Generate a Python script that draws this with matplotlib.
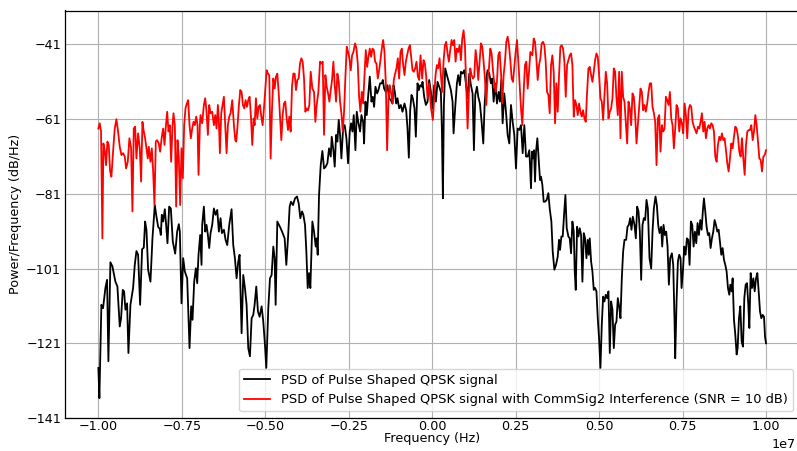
import numpy as np
import matplotlib.pyplot as plt

# frequency in MHz, PSD in dB/Hz
clean_freq_mhz = [
    -10.00, -9.97, -9.91, -9.86, -9.79, -9.74, -9.70, -9.64, -9.58, -9.49,
    -9.43, -9.36, -9.32, -9.27, -9.23, -9.19, -9.14, -9.10, -9.04, -8.96,
    -8.91, -8.86, -8.81, -8.75, -8.69, -8.64, -8.60, -8.56, -8.51, -8.44,
    -8.38, -8.31, -8.26, -8.21, -8.16, -8.13, -8.10, -8.06, -8.01, -7.97,
    -7.93, -7.88, -7.83, -7.77, -7.70, -7.64, -7.59, -7.56, -7.51, -7.46,
    -7.41, -7.34, -7.27, -7.22, -7.18, -7.13, -7.08, -7.04, -7.00, -6.95,
    -6.91, -6.89, -6.84, -6.80, -6.76, -6.72, -6.68, -6.64, -6.59, -6.54,
    -6.49, -6.44, -6.39, -6.34, -6.30, -6.24, -6.19, -6.14, -6.08, -6.01,
    -5.96, -5.91, -5.86, -5.81, -5.77, -5.71, -5.66, -5.61, -5.56, -5.51,
    -5.46, -5.41, -5.36, -5.32, -5.27, -5.22, -5.17, -5.11, -5.06, -5.01,
    -4.97, -4.91, -4.86, -4.81, -4.76, -4.72, -4.69, -4.64, -4.59, -4.54,
    -4.48, -4.42, -4.37, -4.32, -4.27, -4.23, -4.17, -4.11, -4.05, -4.00,
    -3.95, -3.90, -3.86, -3.81, -3.77, -3.73, -3.69, -3.65, -3.59, -3.54,
    -3.49, -3.46, -3.43, -3.39, -3.34, -3.29, -3.24, -3.19, -3.14, -3.09,
    -3.04, -3.01, -2.96, -2.92, -2.88, -2.84, -2.80, -2.76, -2.72, -2.67,
    -2.62, -2.57, -2.52, -2.47, -2.43, -2.39, -2.35, -2.30, -2.26, -2.21,
    -2.16, -2.12, -2.07, -2.04, -2.00, -1.96, -1.92, -1.87, -1.82, -1.78,
    -1.74, -1.70, -1.65, -1.61, -1.56, -1.51, -1.48, -1.44, -1.39, -1.34,
    -1.29, -1.24, -1.19, -1.16, -1.12, -1.08, -1.04, -0.99, -0.94, -0.89,
    -0.83, -0.78, -0.74, -0.70, -0.66, -0.62, -0.58, -0.53, -0.49, -0.44,
    -0.40, -0.36, -0.31, -0.29, -0.24, -0.19, -0.14, -0.09, -0.04, 0.01,
    0.06, 0.11, 0.16, 0.21, 0.26, 0.29, 0.32, 0.35, 0.39, 0.44,
    0.48, 0.52, 0.56, 0.61, 0.64, 0.69, 0.74, 0.78, 0.83, 0.86,
    0.91, 0.96, 1.01, 1.06, 1.11, 1.16, 1.21, 1.25, 1.29, 1.34,
    1.38, 1.43, 1.48, 1.53, 1.57, 1.62, 1.66, 1.71, 1.76, 1.80,
    1.84, 1.89, 1.94, 1.99, 2.03, 2.07, 2.11, 2.16, 2.21, 2.26,
    2.31, 2.36, 2.41, 2.46, 2.51, 2.56, 2.61, 2.66, 2.71, 2.76,
    2.81, 2.86, 2.91, 2.96, 2.99, 3.02, 3.05, 3.08, 3.11, 3.15,
    3.19, 3.23, 3.26, 3.30, 3.34, 3.38, 3.43, 3.48, 3.52, 3.57,
    3.61, 3.66, 3.71, 3.76, 3.80, 3.83, 3.87, 3.91, 3.95, 3.99,
    4.03, 4.08, 4.12, 4.16, 4.20, 4.24, 4.27, 4.30, 4.34, 4.38,
    4.42, 4.46, 4.50, 4.54, 4.58, 4.62, 4.66, 4.69, 4.72, 4.76,
    4.80, 4.84, 4.88, 4.92, 4.96, 5.00, 5.04, 5.08, 5.12, 5.16,
    5.20, 5.24, 5.28, 5.32, 5.36, 5.40, 5.44, 5.48, 5.52, 5.56,
    5.60, 5.64, 5.68, 5.72, 5.76, 5.81, 5.85, 5.89, 5.93, 5.97,
    6.01, 6.06, 6.10, 6.14, 6.18, 6.22, 6.26, 6.30, 6.34, 6.38,
    6.42, 6.46, 6.51, 6.56, 6.60, 6.64, 6.69, 6.73, 6.77, 6.81,
    6.86, 6.89, 6.93, 6.97, 7.01, 7.05, 7.09, 7.13, 7.18, 7.22,
    7.26, 7.28, 7.32, 7.36, 7.40, 7.44, 7.47, 7.51, 7.55, 7.59,
    7.63, 7.67, 7.71, 7.75, 7.79, 7.83, 7.87, 7.91, 7.95, 7.99,
    8.03, 8.07, 8.11, 8.14, 8.18, 8.22, 8.26, 8.30, 8.34, 8.38,
    8.42, 8.46, 8.50, 8.54, 8.58, 8.62, 8.66, 8.70, 8.74, 8.78,
    8.82, 8.86, 8.90, 8.93, 8.97, 9.00, 9.04, 9.08, 9.12, 9.15,
    9.19, 9.23, 9.27, 9.31, 9.35, 9.39, 9.43, 9.47, 9.50, 9.54,
    9.58, 9.62, 9.66, 9.70, 9.74, 9.78, 9.82, 9.86, 9.90, 9.94,
    9.97, 10.00,
]
clean_psd_db = [
    -127.6, -135.7, -110.7, -111.6, -106.2, -104.0, -125.8, -99.3, -100.4, -104.5,
    -105.8, -116.5, -114.3, -106.7, -107.1, -112.0, -110.3, -123.6, -110.7, -106.2,
    -100.0, -96.3, -97.3, -110.7, -95.8, -95.4, -88.4, -90.6, -101.3, -104.5,
    -92.9, -84.0, -87.1, -89.8, -90.4, -92.0, -86.6, -88.4, -85.1, -89.3,
    -94.2, -84.4, -84.9, -93.8, -97.0, -91.1, -89.1, -91.1, -110.3, -98.2,
    -101.8, -103.6, -122.3, -111.1, -114.7, -104.5, -100.9, -104.9, -97.3, -92.0,
    -100.0, -89.3, -84.4, -91.1, -89.3, -92.0, -95.5, -91.5, -89.3, -84.9,
    -86.6, -85.3, -91.1, -87.5, -91.5, -90.6, -93.3, -94.7, -89.3, -85.1,
    -94.7, -98.2, -103.6, -99.1, -97.3, -118.3, -102.7, -106.2, -110.7, -122.3,
    -124.5, -114.3, -113.4, -110.7, -105.8, -112.5, -113.9, -111.1, -115.2, -121.4,
    -127.6, -111.6, -103.6, -102.7, -95.1, -98.2, -110.7, -88.4, -89.3, -90.2,
    -91.5, -92.9, -100.0, -92.9, -84.4, -83.1, -84.0, -82.2, -81.7, -83.5,
    -87.5, -85.7, -86.6, -89.3, -96.4, -106.2, -102.2, -106.2, -88.4, -91.1,
    -95.1, -92.9, -97.3, -81.3, -73.3, -69.5, -74.2, -73.7, -72.8, -68.8,
    -71.0, -65.7, -69.3, -73.7, -65.2, -67.0, -61.2, -65.2, -71.5, -63.5,
    -62.6, -66.1, -72.8, -64.3, -62.1, -64.3, -59.9, -69.3, -59.0, -62.1,
    -64.3, -59.9, -61.7, -67.5, -56.3, -59.9, -55.0, -49.6, -56.3, -55.0,
    -57.7, -52.3, -54.1, -53.2, -51.4, -51.4, -50.5, -52.8, -53.7, -51.9,
    -55.4, -55.9, -56.8, -51.9, -53.7, -56.8, -55.4, -58.1, -57.2, -59.0,
    -56.8, -58.6, -63.5, -71.3, -58.6, -54.5, -55.4, -58.1, -65.7, -51.4,
    -53.2, -51.9, -52.3, -51.0, -55.0, -57.2, -56.3, -50.5, -53.7, -58.1,
    -51.9, -56.3, -51.0, -52.3, -53.7, -63.5, -82.2, -57.2, -47.4, -49.2,
    -50.5, -51.9, -53.2, -56.3, -64.8, -57.7, -51.4, -49.2, -51.9, -48.3,
    -48.8, -47.9, -51.4, -55.4, -48.8, -51.9, -54.1, -69.3, -54.5, -52.3,
    -55.0, -56.8, -61.7, -67.5, -57.2, -50.1, -47.9, -48.8, -51.4, -50.1,
    -56.3, -51.4, -56.8, -53.7, -56.3, -50.5, -62.1, -54.1, -59.0, -65.2,
    -67.5, -57.2, -61.7, -65.2, -74.2, -63.5, -63.9, -62.6, -70.1, -62.6,
    -71.0, -71.0, -69.3, -79.5, -69.7, -71.5, -69.3, -77.7, -69.7, -66.1,
    -71.5, -77.3, -76.4, -78.6, -83.1, -83.1, -82.6, -80.8, -84.9, -88.4,
    -96.4, -101.3, -100.0, -97.8, -93.3, -96.0, -92.4, -92.4, -86.6, -81.3,
    -90.2, -92.4, -92.9, -96.9, -88.4, -91.1, -101.8, -106.7, -89.8, -92.4,
    -90.2, -92.0, -104.5, -91.5, -92.9, -98.2, -93.3, -97.3, -92.9, -99.1,
    -101.8, -106.7, -106.2, -107.1, -114.3, -119.9, -127.6, -116.0, -108.5, -109.8,
    -108.0, -108.9, -107.1, -123.6, -109.8, -112.0, -122.3, -116.0, -115.2, -108.9,
    -111.1, -114.3, -103.6, -96.4, -93.3, -93.3, -89.8, -89.3, -87.5, -90.6,
    -87.1, -89.3, -92.9, -84.4, -85.7, -91.1, -104.0, -89.3, -87.5, -88.0,
    -82.6, -84.9, -98.2, -101.0, -91.1, -84.9, -81.7, -84.0, -89.3, -91.5,
    -89.8, -95.1, -89.3, -92.0, -91.1, -95.1, -105.3, -98.2, -96.9, -100.0,
    -115.2, -125.0, -109.8, -99.1, -97.3, -98.2, -106.2, -101.8, -95.1, -97.3,
    -92.9, -93.3, -100.0, -88.4, -89.3, -95.1, -91.1, -94.2, -88.8, -92.0,
    -88.0, -90.6, -85.3, -82.2, -85.7, -89.8, -92.0, -91.5, -95.5, -92.9,
    -91.1, -88.0, -89.3, -91.1, -90.6, -93.8, -97.3, -95.5, -98.6, -100.0,
    -101.8, -106.2, -108.0, -105.3, -107.1, -103.6, -114.7, -118.7, -124.0, -122.3,
    -114.3, -111.1, -120.5, -121.9, -108.9, -105.3, -104.9, -110.7, -116.9, -102.2,
    -106.2, -103.6, -107.1, -103.6, -102.2, -107.1, -112.5, -114.3, -113.4, -113.9,
    -119.2, -121.0,
]

noisy_freq_mhz = [
    -10.00, -9.96, -9.92, -9.88, -9.85, -9.81, -9.77, -9.73, -9.69, -9.65,
    -9.61, -9.56, -9.51, -9.46, -9.41, -9.36, -9.31, -9.26, -9.21, -9.17,
    -9.12, -9.07, -9.02, -8.98, -8.94, -8.90, -8.86, -8.81, -8.76, -8.72,
    -8.68, -8.64, -8.60, -8.56, -8.52, -8.49, -8.44, -8.40, -8.36, -8.32,
    -8.28, -8.24, -8.19, -8.15, -8.10, -8.06, -8.02, -7.98, -7.94, -7.90,
    -7.86, -7.82, -7.78, -7.75, -7.71, -7.67, -7.63, -7.59, -7.55, -7.51,
    -7.47, -7.43, -7.39, -7.35, -7.31, -7.27, -7.23, -7.19, -7.15, -7.11,
    -7.07, -7.03, -7.00, -6.96, -6.94, -6.89, -6.84, -6.80, -6.76, -6.72,
    -6.68, -6.64, -6.59, -6.54, -6.50, -6.46, -6.42, -6.39, -6.36, -6.32,
    -6.28, -6.24, -6.20, -6.16, -6.12, -6.08, -6.04, -5.99, -5.94, -5.90,
    -5.87, -5.83, -5.79, -5.75, -5.71, -5.67, -5.63, -5.59, -5.55, -5.51,
    -5.47, -5.43, -5.39, -5.35, -5.32, -5.28, -5.24, -5.20, -5.16, -5.12,
    -5.08, -5.04, -5.00, -4.96, -4.92, -4.88, -4.84, -4.80, -4.76, -4.72,
    -4.68, -4.64, -4.60, -4.56, -4.52, -4.48, -4.44, -4.40, -4.36, -4.32,
    -4.28, -4.24, -4.20, -4.16, -4.12, -4.08, -4.04, -4.00, -3.96, -3.92,
    -3.88, -3.84, -3.80, -3.76, -3.72, -3.68, -3.64, -3.59, -3.54, -3.50,
    -3.46, -3.41, -3.36, -3.32, -3.28, -3.24, -3.20, -3.16, -3.12, -3.08,
    -3.04, -3.00, -2.96, -2.92, -2.88, -2.84, -2.80, -2.76, -2.72, -2.68,
    -2.64, -2.60, -2.56, -2.52, -2.48, -2.44, -2.40, -2.36, -2.31, -2.27,
    -2.23, -2.19, -2.15, -2.11, -2.07, -2.03, -1.99, -1.95, -1.91, -1.87,
    -1.83, -1.79, -1.75, -1.71, -1.67, -1.63, -1.59, -1.55, -1.51, -1.47,
    -1.43, -1.39, -1.35, -1.31, -1.27, -1.23, -1.19, -1.15, -1.11, -1.07,
    -1.03, -0.99, -0.95, -0.91, -0.87, -0.83, -0.79, -0.75, -0.71, -0.67,
    -0.63, -0.59, -0.55, -0.51, -0.47, -0.43, -0.39, -0.35, -0.30, -0.26,
    -0.22, -0.18, -0.14, -0.09, -0.04, 0.02, 0.06, 0.10, 0.14, 0.18,
    0.22, 0.26, 0.30, 0.34, 0.38, 0.42, 0.46, 0.50, 0.54, 0.58,
    0.62, 0.66, 0.70, 0.74, 0.78, 0.82, 0.86, 0.90, 0.94, 0.98,
    1.02, 1.06, 1.10, 1.14, 1.18, 1.22, 1.26, 1.30, 1.34, 1.38,
    1.42, 1.46, 1.50, 1.54, 1.58, 1.62, 1.66, 1.70, 1.74, 1.78,
    1.82, 1.86, 1.90, 1.94, 1.98, 2.02, 2.06, 2.10, 2.14, 2.18,
    2.22, 2.26, 2.30, 2.34, 2.38, 2.42, 2.46, 2.50, 2.54, 2.58,
    2.62, 2.66, 2.70, 2.74, 2.78, 2.82, 2.86, 2.90, 2.94, 3.00,
    3.04, 3.08, 3.12, 3.16, 3.20, 3.24, 3.28, 3.32, 3.36, 3.40,
    3.44, 3.48, 3.52, 3.56, 3.60, 3.64, 3.68, 3.72, 3.76, 3.80,
    3.84, 3.88, 3.92, 3.96, 4.00, 4.04, 4.08, 4.12, 4.16, 4.20,
    4.24, 4.28, 4.32, 4.36, 4.40, 4.44, 4.48, 4.52, 4.56, 4.60,
    4.64, 4.68, 4.72, 4.76, 4.80, 4.84, 4.88, 4.92, 4.96, 5.00,
    5.04, 5.08, 5.12, 5.16, 5.20, 5.24, 5.28, 5.32, 5.36, 5.40,
    5.44, 5.48, 5.52, 5.56, 5.60, 5.64, 5.68, 5.72, 5.76, 5.80,
    5.84, 5.88, 5.92, 5.96, 6.00, 6.04, 6.08, 6.12, 6.16, 6.20,
    6.24, 6.28, 6.32, 6.36, 6.40, 6.44, 6.48, 6.52, 6.56, 6.60,
    6.64, 6.68, 6.72, 6.76, 6.80, 6.84, 6.88, 6.92, 6.96, 7.00,
    7.04, 7.08, 7.12, 7.16, 7.20, 7.24, 7.28, 7.32, 7.36, 7.40,
    7.44, 7.48, 7.52, 7.56, 7.60, 7.64, 7.68, 7.72, 7.76, 7.80,
    7.84, 7.88, 7.92, 7.96, 8.00, 8.04, 8.08, 8.12, 8.16, 8.20,
    8.24, 8.28, 8.32, 8.36, 8.40, 8.44, 8.48, 8.52, 8.56, 8.60,
    8.64, 8.68, 8.72, 8.76, 8.80, 8.84, 8.88, 8.92, 8.96, 9.00,
    9.04, 9.08, 9.12, 9.16, 9.20, 9.24, 9.28, 9.32, 9.36, 9.40,
    9.44, 9.48, 9.52, 9.56, 9.60, 9.64, 9.68, 9.72, 9.76, 9.80,
    9.84, 9.88, 9.92, 9.96, 10.00,
]
noisy_psd_db = [
    -63.5, -62.1, -64.3, -92.9, -67.5, -69.3, -73.3, -67.0, -67.9, -74.9,
    -76.4, -69.7, -63.5, -61.0, -64.3, -68.4, -70.6, -70.1, -71.0, -74.2,
    -72.4, -66.1, -68.8, -85.7, -63.5, -63.0, -71.5, -64.8, -68.8, -77.7,
    -61.7, -64.3, -66.1, -68.8, -71.5, -68.4, -72.4, -68.8, -74.9, -84.0,
    -67.0, -66.6, -67.5, -69.7, -65.7, -63.5, -67.9, -63.0, -59.0, -64.3,
    -62.6, -72.4, -63.0, -59.4, -62.6, -84.4, -66.6, -71.5, -84.0, -68.8,
    -76.8, -62.6, -58.1, -56.8, -55.9, -62.6, -66.1, -63.5, -61.7, -62.6,
    -60.3, -62.6, -75.9, -62.6, -59.9, -62.1, -57.2, -55.4, -59.0, -65.2,
    -57.2, -59.4, -59.0, -62.6, -59.9, -63.5, -57.2, -61.7, -70.1, -59.4,
    -57.2, -55.0, -62.6, -70.1, -62.6, -60.3, -59.4, -55.9, -62.6, -66.6,
    -67.0, -62.6, -57.2, -53.2, -53.7, -57.2, -58.1, -55.9, -57.7, -55.9,
    -55.0, -60.3, -67.9, -60.8, -62.6, -55.4, -60.8, -57.7, -57.2, -60.3,
    -62.6, -58.1, -52.8, -47.9, -48.8, -49.2, -71.5, -58.6, -50.1, -52.8,
    -49.6, -48.8, -53.7, -60.3, -66.6, -59.9, -56.8, -56.3, -60.8, -63.9,
    -60.3, -64.3, -52.3, -48.8, -48.8, -53.2, -50.5, -50.1, -46.1, -44.7,
    -45.6, -50.1, -59.0, -58.1, -58.6, -57.2, -48.3, -52.8, -53.7, -61.7,
    -57.2, -53.7, -45.6, -46.1, -45.6, -65.2, -49.2, -52.3, -54.1, -56.3,
    -53.2, -50.5, -45.6, -51.9, -56.3, -48.8, -51.0, -56.3, -59.4, -64.3,
    -59.0, -49.6, -41.6, -43.0, -44.7, -47.9, -43.9, -43.0, -40.7, -42.1,
    -46.1, -55.0, -59.0, -53.7, -56.8, -49.6, -42.5, -47.0, -44.3, -42.1,
    -44.3, -42.1, -42.5, -45.6, -46.1, -50.1, -47.9, -45.2, -42.1, -39.8,
    -43.0, -51.4, -69.3, -55.4, -51.9, -54.1, -56.8, -50.5, -48.8, -47.4,
    -44.7, -50.1, -43.0, -42.1, -46.5, -49.2, -45.6, -43.9, -42.1, -41.2,
    -44.3, -47.9, -48.3, -47.4, -45.6, -49.6, -50.5, -43.9, -50.1, -45.2,
    -46.1, -49.6, -55.4, -51.4, -57.7, -61.2, -55.4, -49.2, -46.5, -47.4,
    -44.7, -49.2, -53.7, -45.6, -41.2, -40.3, -43.4, -45.6, -42.5, -39.8,
    -41.2, -39.8, -45.6, -42.1, -43.0, -41.2, -45.2, -39.4, -37.2, -41.2,
    -52.8, -63.5, -53.7, -47.4, -49.2, -50.1, -49.6, -42.5, -45.6, -50.5,
    -45.6, -40.7, -41.6, -45.6, -50.1, -57.2, -50.1, -47.4, -42.1, -43.4,
    -47.9, -51.4, -53.7, -51.0, -43.9, -43.0, -48.3, -56.8, -49.2, -45.6,
    -40.3, -38.9, -41.2, -45.2, -50.1, -51.0, -47.0, -43.0, -39.8, -45.6,
    -51.9, -58.1, -62.6, -53.7, -46.5, -45.6, -52.8, -48.3, -43.0, -43.9,
    -39.4, -40.3, -44.7, -50.5, -46.5, -44.7, -40.7, -40.3, -41.2, -45.6,
    -53.7, -54.5, -59.4, -46.5, -43.9, -48.3, -62.1, -51.4, -59.0, -49.2,
    -41.6, -41.2, -42.1, -45.6, -55.0, -46.5, -45.2, -43.9, -43.4, -46.5,
    -60.3, -55.9, -57.2, -59.9, -56.8, -59.0, -60.3, -58.6, -60.8, -61.7,
    -53.7, -47.4, -47.0, -49.2, -51.0, -48.3, -45.2, -43.4, -44.3, -49.2,
    -55.4, -56.3, -61.2, -54.5, -48.3, -51.4, -60.8, -59.0, -58.1, -55.4,
    -47.4, -48.3, -55.4, -59.9, -48.3, -66.1, -48.3, -55.0, -56.3, -62.1,
    -67.5, -56.3, -58.1, -62.6, -54.1, -55.0, -59.9, -67.5, -62.6, -58.1,
    -52.8, -53.7, -58.6, -57.2, -59.0, -56.8, -53.7, -51.4, -51.4, -57.7,
    -59.4, -61.7, -73.3, -60.8, -59.9, -69.7, -62.6, -64.3, -63.5, -55.0,
    -55.9, -57.2, -53.7, -60.8, -62.6, -68.8, -63.5, -57.2, -58.1, -64.3,
    -60.8, -62.1, -64.8, -56.8, -59.9, -66.1, -58.6, -57.2, -57.7, -61.7,
    -63.0, -63.9, -64.8, -63.0, -63.5, -61.7, -59.4, -64.3, -61.7, -66.1,
    -63.5, -62.6, -63.5, -62.1, -62.6, -64.3, -71.0, -72.4, -67.9, -65.7,
    -66.6, -64.8, -66.6, -66.1, -69.3, -72.8, -75.0, -71.5, -67.5, -68.8,
    -65.7, -63.0, -63.5, -65.7, -69.7, -71.0, -66.1, -71.5, -75.9, -67.9,
    -64.3, -63.9, -63.9, -62.6, -66.6, -64.3, -59.9, -62.6, -67.0, -71.5,
    -71.9, -75.0, -71.0, -70.6, -69.3,
]

y_ticks = np.arange(-141, -40, 20)

plt.rcParams['font.family'] = 'DejaVu Sans'
plt.rcParams['font.size'] = 9.2

fig = plt.figure(figsize=(7.97, 4.51), dpi=100)
ax = fig.add_axes([65 / 797, 33 / 451, 734.4 / 797, 407.5 / 451])

ax.plot(np.array(clean_freq_mhz) * 1e6, clean_psd_db, color='black', lw=1.3,
        label='PSD of Pulse Shaped QPSK signal')
ax.plot(np.array(noisy_freq_mhz) * 1e6, noisy_psd_db, color='red', lw=1.3,
        label='PSD of Pulse Shaped QPSK signal with CommSig2 Interference (SNR = 10 dB)')

ax.set_xlim(-1.1e7, 1.1e7)
ax.set_ylim(-141, -31.9)
ax.set_yticks(y_ticks)
ax.grid(True, color='#b0b0b0', lw=0.8)
ax.set_axisbelow(True)
ax.tick_params(axis='x', length=0, pad=1.8)
ax.tick_params(axis='y', length=0, pad=2.8)
for s in ax.spines.values():
    s.set_color('black')
    s.set_linewidth(0.9)

# the axes run a little past the right edge, pull the "1e7" back in
ax.xaxis.get_offset_text().set_x(0.995)

ax.set_xlabel('Frequency (Hz)', labelpad=-1)
ax.set_ylabel('Power/Frequency (dB/Hz)', labelpad=3)
ax.legend(loc='lower right', fontsize=9.4)

fig.savefig('out.png', dpi=100)
